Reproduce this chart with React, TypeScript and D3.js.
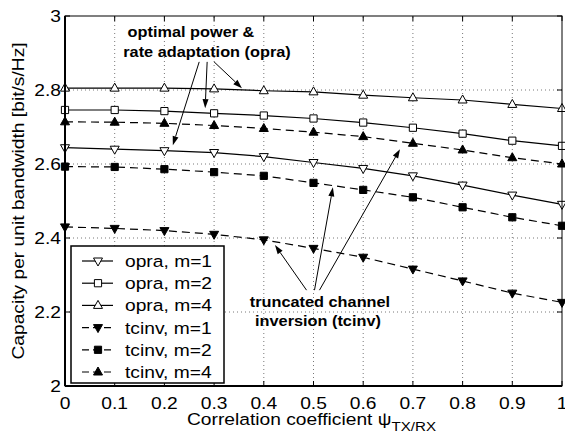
import React from 'react'
import * as d3 from 'd3'

const RHO = [0, 0.1, 0.2, 0.3, 0.4, 0.5, 0.6, 0.7, 0.8, 0.9, 1.0]
const OPRA_M1 = [2.644, 2.640, 2.636, 2.631, 2.620, 2.604, 2.588, 2.568, 2.543, 2.516, 2.491]
const OPRA_M2 = [2.746, 2.746, 2.743, 2.737, 2.731, 2.723, 2.712, 2.698, 2.682, 2.663, 2.649]
const OPRA_M4 = [2.805, 2.805, 2.805, 2.803, 2.798, 2.795, 2.786, 2.779, 2.773, 2.761, 2.750]
const TCINV_M1 = [2.430, 2.426, 2.420, 2.410, 2.395, 2.372, 2.348, 2.316, 2.284, 2.251, 2.226]
const TCINV_M2 = [2.593, 2.592, 2.586, 2.578, 2.568, 2.549, 2.530, 2.510, 2.483, 2.456, 2.433]
const TCINV_M4 = [2.714, 2.713, 2.710, 2.704, 2.696, 2.686, 2.674, 2.656, 2.638, 2.617, 2.600]
const X_TICKS = [0, 0.1, 0.2, 0.3, 0.4, 0.5, 0.6, 0.7, 0.8, 0.9, 1]
const Y_TICKS = [2, 2.2, 2.4, 2.6, 2.8, 3]

type Marker = 'triDown' | 'square' | 'triUp'
const SERIES: { label: string; values: number[]; marker: Marker; filled: boolean; dashed: boolean }[] = [
  { label: 'opra, m=1', values: OPRA_M1, marker: 'triDown', filled: false, dashed: false },
  { label: 'opra, m=2', values: OPRA_M2, marker: 'square', filled: false, dashed: false },
  { label: 'opra, m=4', values: OPRA_M4, marker: 'triUp', filled: false, dashed: false },
  { label: 'tcinv, m=1', values: TCINV_M1, marker: 'triDown', filled: true, dashed: true },
  { label: 'tcinv, m=2', values: TCINV_M2, marker: 'square', filled: true, dashed: true },
  { label: 'tcinv, m=4', values: TCINV_M4, marker: 'triUp', filled: true, dashed: true },
]

// annotation arrows: [fromX, fromY, toX, toY] in data units
const OPRA_ARROWS = [
  [0.270, 2.876, 0.217, 2.651],
  [0.286, 2.876, 0.282, 2.751],
  [0.300, 2.876, 0.356, 2.805],
]
const TCINV_ARROWS = [
  [0.486, 2.259, 0.4225, 2.381],
  [0.502, 2.259, 0.539, 2.537],
  [0.512, 2.259, 0.674, 2.640],
]

const W = 565
const H = 435
const M = { left: 65, right: 3, top: 16, bottom: 49 }
const FONT = '"Liberation Sans", Arial, Helvetica, sans-serif'
const SX = 1.165 // the original lettering is a bit wider than Arial

function markerPath(m: Marker, cx: number, cy: number) {
  if (m === 'square') return `M${cx - 3.6},${cy - 3.6}h7.2v7.2h-7.2Z`
  if (m === 'triUp') return `M${cx},${cy - 5}L${cx + 4.5},${cy + 3}L${cx - 4.5},${cy + 3}Z`
  return `M${cx},${cy + 5}L${cx + 4.5},${cy - 3}L${cx - 4.5},${cy - 3}Z`
}

function ST({ x, y, size, anchor = 'start', bold = false, rotate = 0, children }: any) {
  return (
    <text
      transform={`translate(${x},${y})${rotate ? ` rotate(${rotate})` : ''} scale(${SX},1)`}
      textAnchor={anchor}
      fontSize={size}
      fontWeight={bold ? 'bold' : 'normal'}
    >
      {children}
    </text>
  )
}

export default function App() {
  const x = d3.scaleLinear().domain([0, 1]).range([M.left, W - M.right])
  const y = d3.scaleLinear().domain([2, 3]).range([H - M.bottom, M.top])
  const [x0, x1] = x.range()
  const [y0, y1] = y.range()
  const line = d3.line<number>().x((_, i) => x(RHO[i])).y(d => y(d))

  const arrow = (a: number[], key: string) => {
    const fx = x(a[0]), fy = y(a[1]), tx = x(a[2]), ty = y(a[3])
    const ang = Math.atan2(ty - fy, tx - fx)
    const L = 9, hw = 3
    const bx = tx - L * Math.cos(ang), by = ty - L * Math.sin(ang)
    const px = -Math.sin(ang) * hw, py = Math.cos(ang) * hw
    return (
      <g key={key}>
        <line x1={fx} y1={fy} x2={bx} y2={by} stroke="#000" strokeWidth={1} />
        <path d={`M${tx},${ty}L${bx + px},${by + py}L${bx - px},${by - py}Z`} fill="#000" />
      </g>
    )
  }

  const legX = 71, legY = 246, legW = 153, legH = 137, rowH = 22.2

  return (
    <svg width={W} height={H} style={{ position: 'absolute', left: 0, top: 0, background: '#fff' }} fontFamily={FONT}>
      <rect x={0} y={0} width={W} height={H} fill="#fff" />
      {/* grid */}
      {X_TICKS.slice(1, -1).map(t => (
        <line key={'gx' + t} x1={x(t)} x2={x(t)} y1={y0} y2={y1} stroke="#555" strokeWidth={0.8} strokeDasharray="1,3" />
      ))}
      {Y_TICKS.slice(1, -1).map(t => (
        <line key={'gy' + t} x1={x0} x2={x1} y1={y(t)} y2={y(t)} stroke="#555" strokeWidth={0.8} strokeDasharray="1,3" />
      ))}
      {/* ticks on all sides */}
      {X_TICKS.map(t => (
        <g key={'tx' + t}>
          <line x1={x(t)} x2={x(t)} y1={y0} y2={y0 - 5} stroke="#000" />
          <line x1={x(t)} x2={x(t)} y1={y1} y2={y1 + 5} stroke="#000" />
        </g>
      ))}
      {Y_TICKS.map(t => (
        <g key={'ty' + t}>
          <line x1={x0} x2={x0 + 5} y1={y(t)} y2={y(t)} stroke="#000" />
          <line x1={x1} x2={x1 - 5} y1={y(t)} y2={y(t)} stroke="#000" />
        </g>
      ))}
      {/* series */}
      {SERIES.map(s => (
        <g key={s.label}>
          <path d={line(s.values) || ''} fill="none" stroke="#000" strokeWidth={1.2} strokeDasharray={s.dashed ? '8,5' : undefined} />
          {s.values.map((v, i) => (
            <path key={i} d={markerPath(s.marker, x(RHO[i]), y(v))} fill={s.filled ? '#000' : '#fff'} stroke="#000" strokeWidth={1} />
          ))}
        </g>
      ))}
      {/* axes box */}
      <rect x={x0} y={y1} width={x1 - x0} height={y0 - y1} fill="none" stroke="#000" strokeWidth={1} />
      <line x1={x0} x2={x0} y1={y1} y2={y0} stroke="#000" strokeWidth={2} />
      <line x1={x0} x2={x1} y1={y0} y2={y0} stroke="#000" strokeWidth={2} />
      {/* tick labels */}
      {X_TICKS.map(t => (
        <ST key={'lx' + t} x={x(t)} y={y0 + 23} anchor="middle" size={16.5}>{String(t)}</ST>
      ))}
      {Y_TICKS.map(t => (
        <ST key={'ly' + t} x={x0 - 4} y={y(t) + 6} anchor="end" size={16.5}>{String(t)}</ST>
      ))}
      {/* axis titles */}
      <ST x={x(0.5) - 2} y={y0 + 39} anchor="middle" size={16.5}>
        Correlation coefficient ψ<tspan fontSize={13} dy={6}>TX/RX</tspan>
      </ST>
      <ST x={24} y={(y0 + y1) / 2} anchor="middle" size={16.5} rotate={-90}>
        Capacity per unit bandwidth [bit/s/Hz]
      </ST>
      {/* annotations */}
      <ST x={x(0.2535)} y={y(2.944)} anchor="middle" size={14} bold>optimal power &amp;</ST>
      <ST x={x(0.2857)} y={y(2.89)} anchor="middle" size={14} bold>rate adaptation (opra)</ST>
      {OPRA_ARROWS.map((a, i) => arrow(a, 'oa' + i))}
      <ST x={x(0.513)} y={y(2.2135)} anchor="middle" size={14} bold>truncated channel</ST>
      <ST x={x(0.509)} y={y(2.161)} anchor="middle" size={14} bold>inversion (tcinv)</ST>
      {TCINV_ARROWS.map((a, i) => arrow(a, 'ta' + i))}
      {/* legend */}
      <rect x={legX} y={legY} width={legW} height={legH} fill="#fff" stroke="#000" strokeWidth={1.5} />
      {SERIES.map((s, i) => {
        const cy = legY + 15 + i * rowH
        return (
          <g key={'lg' + i}>
            <line x1={legX + 11} x2={legX + 42} y1={cy} y2={cy} stroke="#000" strokeWidth={1.2} strokeDasharray={s.dashed ? '7,4' : undefined} />
            <path d={markerPath(s.marker, legX + 27, cy)} fill={s.filled ? '#000' : '#fff'} stroke="#000" />
            <ST x={legX + 54} y={cy + 6} size={16.5}>{s.label}</ST>
          </g>
        )
      })}
    </svg>
  )
}
